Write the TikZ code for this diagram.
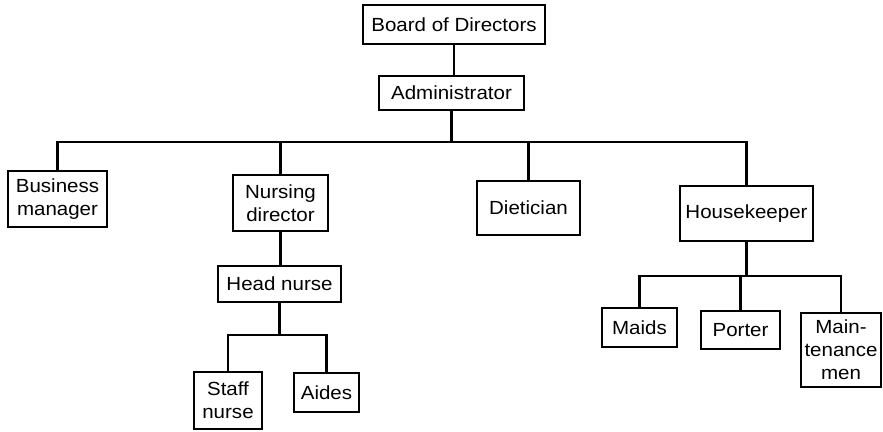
\documentclass[tikz,border=0pt]{standalone}
\usepackage{fontspec}
\setmainfont[FakeStretch=1.08]{Liberation Sans}
\begin{document}
\begin{tikzpicture}[x=1pt,y=-1pt,
  box/.style={draw=black,line width=1.4pt,rectangle,inner sep=0pt,
    align=center,font=\fontsize{19}{23}\selectfont},
  conn/.style={draw=black,line width=2.4pt,line cap=rect}]
\useasboundingbox (0,0) rectangle (883,431);

% boxes, placed by their corner extents
\newcommand{\orgbox}[6]{%
  \node[box,minimum width={#4-#2},minimum height={#5-#3}] (#1)
    at ({(#2+#4)/2},{(#3+#5)/2}) {#6};}
\orgbox{bod}{363}{5}{545}{44}{Board of Directors}
\orgbox{adm}{379}{76}{524}{110}{Administrator}
\orgbox{biz}{8}{171}{107}{227}{Business\\manager}
\orgbox{nd}{233}{175}{328}{231}{Nursing\\director}
\orgbox{diet}{477}{181}{580}{235}{Dietician}
\orgbox{hk}{680}{186}{813}{241}{Housekeeper}
\orgbox{hn}{218}{266}{341}{302}{Head nurse}
\orgbox{sn}{194}{372}{262}{429}{Staff\\nurse}
\orgbox{aid}{294}{373}{359}{412}{Aides}
\orgbox{maid}{602}{308}{677}{347}{Maids}
\orgbox{port}{701}{311}{780}{349}{Porter}
\orgbox{mm}{801}{313}{881}{387}{Main-\\tenance\\men}

% levels of the three bus lines
\coordinate (busA) at (0,142);
\coordinate (busN) at (0,335);
\coordinate (busH) at (0,276);

% top chain
\draw[conn] (bod.south) -- (bod.south |- adm.north);
\draw[conn] (adm.south) -- (adm.south |- busA);
\draw[conn] (biz.north) |- (hk.north |- busA) -- (hk.north);
\draw[conn] (nd.north) -- (nd.north |- busA);
\draw[conn] (diet.north) -- (diet.north |- busA);

% nursing branch
\draw[conn] (nd.south) -- (nd.south |- hn.north);
\draw[conn] (hn.south) -- (hn.south |- busN);
\draw[conn] (sn.north) |- (aid.north |- busN) -- (aid.north);

% housekeeping branch
\draw[conn] (hk.south) -- (hk.south |- busH);
\draw[conn] (maid.north) |- (mm.north |- busH) -- (mm.north);
\draw[conn] (port.north) -- (port.north |- busH);
\end{tikzpicture}
\end{document}
